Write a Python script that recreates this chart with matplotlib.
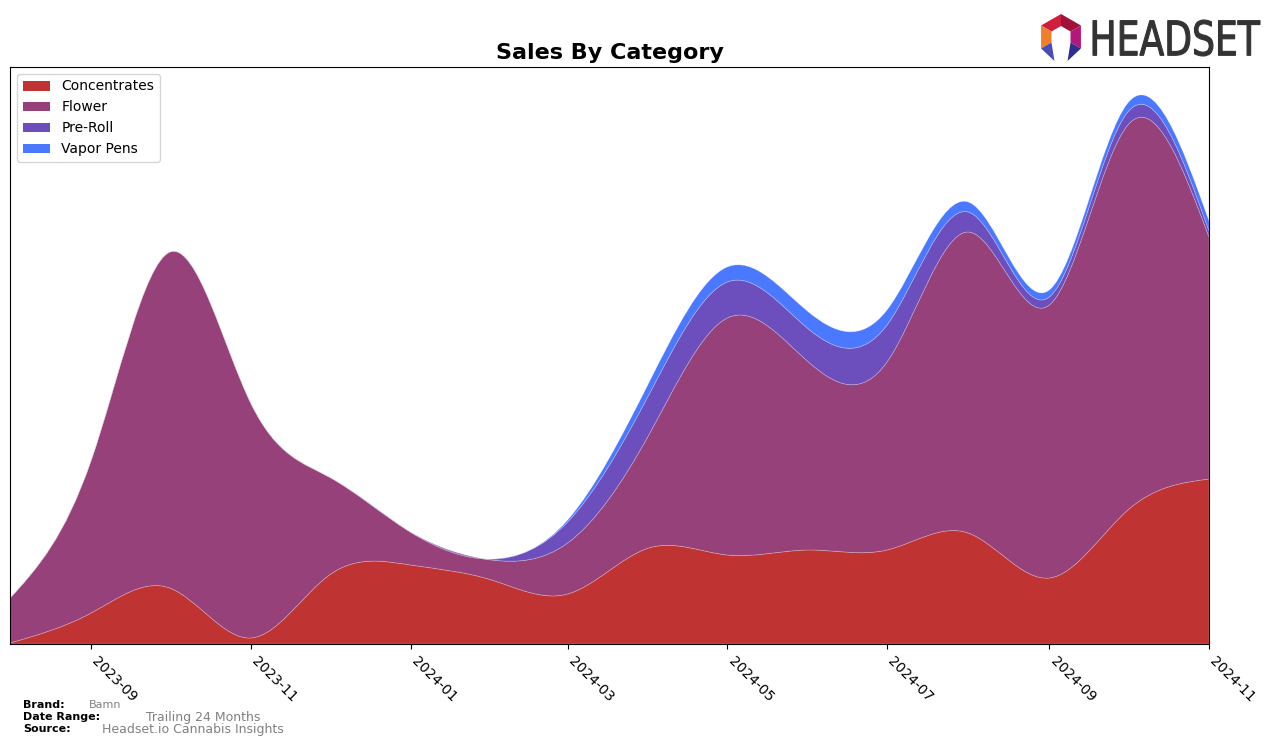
import matplotlib
matplotlib.use("Agg")
import matplotlib.pyplot as plt
import matplotlib.dates as mdates
from matplotlib.path import Path
from matplotlib.patches import PathPatch, Patch, Polygon
from matplotlib.textpath import TextPath
from matplotlib.font_manager import FontProperties
from matplotlib.transforms import Affine2D, ScaledTranslation
import numpy as np
import pandas as pd

## Data (monthly sales, arbitrary units)
months = pd.date_range("2023-08-01", "2024-11-01", freq="MS")
concentrates = [1, 31, 56, 6, 69, 79, 64, 50, 96, 89, 94, 94, 111, 66, 134, 165]
flower = [45, 153, 336, 235, 98, 33, 20, 51, 113, 237, 188, 188, 301, 273, 385, 242]
pre_roll = [0, 0, 0, 0, 0, 0, 1, 21, 40, 36, 33, 37, 20, 8, 13, 6]
vapor_pens = [0, 0, 0, 0, 0, 0, 0, 2, 12, 15, 17, 15, 10, 7, 9, 10]

categories = ["Concentrates", "Flower", "Pre-Roll", "Vapor Pens"]
colours = ["#C03333", "#96417A", "#6C4EBC", "#4A78FF"]


def spline_slopes(x, y):
    # natural cubic spline, returns slope at both ends of every segment
    n = len(x)
    h = np.diff(x)
    A = np.zeros((n, n))
    b = np.zeros(n)
    A[0, 0] = 1.0
    A[-1, -1] = 1.0
    for i in range(1, n - 1):
        A[i, i - 1] = h[i - 1]
        A[i, i] = 2 * (h[i - 1] + h[i])
        A[i, i + 1] = h[i]
        b[i] = 6 * ((y[i + 1] - y[i]) / h[i] - (y[i] - y[i - 1]) / h[i - 1])
    M = np.linalg.solve(A, b)
    sec = np.diff(y) / h
    d0 = sec - h * (2 * M[:-1] + M[1:]) / 6
    d1 = sec + h * (M[:-1] + 2 * M[1:]) / 6
    return d0, d1


def bezier_segments(x, y):
    d0, d1 = spline_slopes(x, y)
    segs = []
    for i in range(len(x) - 1):
        h = x[i + 1] - x[i]
        segs.append([(x[i] + h / 3, y[i] + d0[i] * h / 3),
                     (x[i + 1] - h / 3, y[i + 1] - d1[i] * h / 3),
                     (x[i + 1], y[i + 1])])
    return segs


def band_path(x, lower, upper):
    up = bezier_segments(x, upper)
    lo = bezier_segments(x, lower)
    verts = [(x[0], upper[0])]
    codes = [Path.MOVETO]
    for c1, c2, p in up:
        verts += [c1, c2, p]
        codes += [Path.CURVE4] * 3
    verts.append((x[-1], lower[-1]))
    codes.append(Path.LINETO)
    for i in range(len(lo) - 1, -1, -1):
        c1, c2, p = lo[i]
        verts += [c2, c1, (x[i], lower[i])]
        codes += [Path.CURVE4] * 3
    verts.append((x[0], upper[0]))
    codes.append(Path.CLOSEPOLY)
    return Path(verts, codes)


## Plot
fig = plt.figure(figsize=(12.76, 7.46), dpi=100)
ax = fig.add_axes([10 / 1276, 1 - 644 / 746, 1199 / 1276, 577 / 746])

xnum = mdates.date2num(months.to_pydatetime())
series = [concentrates, flower, pre_roll, vapor_pens]
lower = np.zeros(len(months))
for vals, col in zip(series, colours):
    upper = lower + np.array(vals, dtype=float)
    ax.add_patch(PathPatch(band_path(xnum, lower, upper), facecolor=col,
                           edgecolor=(1, 1, 1, 0.25), linewidth=0.6))
    lower = upper

ax.set_xlim(xnum[0], xnum[-1])
ax.set_ylim(0, 577)
ax.xaxis_date()
ax.xaxis.set_major_locator(mdates.MonthLocator(bymonth=[1, 3, 5, 7, 9, 11]))
ax.xaxis.set_major_formatter(mdates.DateFormatter("%Y-%m"))
ax.set_yticks([])
shift = ScaledTranslation(8 / 100, 0, fig.dpi_scale_trans)
for lab in ax.get_xticklabels():
    lab.set_rotation(-45)
    lab.set_ha("left")
    lab.set_rotation_mode("anchor")
    lab.set_fontsize(10)
    lab.set_transform(lab.get_transform() + shift)

ax.set_title("Sales By Category", fontsize=16, fontweight="bold", pad=6)

handles = [Patch(facecolor=c, label=l) for c, l in zip(colours, categories)]
ax.legend(handles=handles, loc="upper left", fontsize=10,
          borderaxespad=0.5, handlelength=2.0)

## Footer
fig.text(23 / 1276, 1 - 705 / 746, "Brand:", fontsize=8, fontweight="bold", va="center")
fig.text(89 / 1276, 1 - 705 / 746, "Bamn", fontsize=8, color="grey", va="center")
fig.text(23 / 1276, 1 - 717 / 746, "Date Range:", fontsize=8, fontweight="bold", va="center")
fig.text(146 / 1276, 1 - 717 / 746, "Trailing 24 Months", fontsize=9, color="grey", va="center")
fig.text(23 / 1276, 1 - 729 / 746, "Source:", fontsize=8, fontweight="bold", va="center")
fig.text(102 / 1276, 1 - 729 / 746, "Headset.io Cannabis Insights", fontsize=9, color="grey", va="center")

## Logo
lax = fig.add_axes([1036 / 1276, 1 - 64 / 746, 228 / 1276, 54 / 746])
lax.set_xlim(1036, 1264)
lax.set_ylim(64, 10)
lax.axis("off")
tp = TextPath((0, 0), "HEADSET", size=1, prop=FontProperties(family="DejaVu Sans"))
ext = tp.get_extents()
sx = 167 / ext.width
sy = 36 / ext.height
tr = Affine2D().translate(-ext.x0, -ext.y0).scale(sx, -sy).translate(1093, 56)
lax.add_patch(PathPatch(tr.transform_path(tp), facecolor="#333333",
                        edgecolor="#333333", linewidth=0.8))

cx, cy, ro, ri = 1061, 37, 23, 11
ang = np.radians([90, 30, -30, -90, -150, 150])
outer = [(cx + ro * np.cos(a), cy - ro * np.sin(a)) for a in ang]
inner = [(cx + ri * np.cos(a), cy - ri * np.sin(a)) for a in ang]
seg_cols = {5: "#D01F3C", 0: "#A0123A", 1: "#B3177A", 4: "#F07E2A"}
for i, c in seg_cols.items():
    j = (i + 1) % 6
    lax.add_patch(Polygon([outer[i], outer[j], inner[j], inner[i]], closed=True,
                          facecolor=c, edgecolor="none"))
lax.add_patch(Polygon([outer[4], inner[4], (inner[4][0] + 3, cy + 24)], closed=True,
                      facecolor="#4B4BB8", edgecolor="none"))
lax.add_patch(Polygon([outer[2], inner[2], (inner[2][0] - 3, cy + 24)], closed=True,
                      facecolor="#2E2E90", edgecolor="none"))

plt.savefig("out.png", dpi=100)
